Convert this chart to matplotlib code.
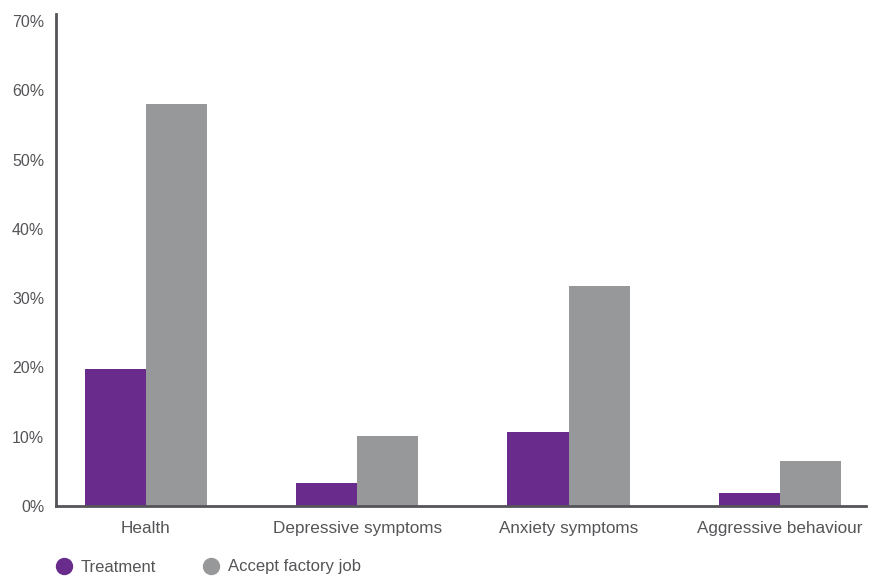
import matplotlib
matplotlib.use("Agg")
import numpy as np
import matplotlib.pyplot as plt
from matplotlib.lines import Line2D

# ---- data ----
categories = ["Health", "Depressive symptoms", "Anxiety symptoms", "Aggressive behaviour"]
treatment = [19.7, 3.3, 10.7, 1.9]
factory_job = [58.0, 10.1, 31.7, 6.5]
series_names = ["Treatment", "Accept factory job"]
y_ticks = [0, 10, 20, 30, 40, 50, 60, 70]

PURPLE = "#692c8c"
GREY = "#97989a"
AXIS = "#555559"
TEXT = "#555559"

plt.rcParams["font.family"] = ["Liberation Sans", "DejaVu Sans"]

fig = plt.figure(figsize=(8.7, 5.76), dpi=100)
ax = fig.add_axes([56 / 870, 1 - 506 / 576, 810 / 870, 492 / 576])

x = np.arange(len(categories))
w = 0.289
ax.bar(x - w / 2, treatment, width=w, color=PURPLE, linewidth=0)
ax.bar(x + w / 2, factory_job, width=w, color=GREY, linewidth=0)

ax.set_xlim(-0.426, 3.408)
ax.set_ylim(0, 71)
ax.set_yticks(y_ticks)
ax.set_yticklabels([f"{v}%" for v in y_ticks])
ax.set_xticks(x)
ax.set_xticklabels(categories)
ax.tick_params(axis="both", length=0, colors=TEXT)
ax.tick_params(axis="y", pad=8.5, labelsize=11.5)
ax.tick_params(axis="x", pad=11, labelsize=12.3)

for s in ["top", "right"]:
    ax.spines[s].set_visible(False)
for s in ["left", "bottom"]:
    ax.spines[s].set_color(AXIS)
    ax.spines[s].set_linewidth(2)

# legend below the axis
handles = [
    Line2D([], [], marker="o", linestyle="", markersize=11.5, color=PURPLE),
    Line2D([], [], marker="o", linestyle="", markersize=11.5, color=GREY),
]
fig.legend(handles, series_names, loc="center left", bbox_to_anchor=(36 / 870, 1 - 567 / 576),
           ncol=2, frameon=False, fontsize=12, labelcolor=TEXT,
           handletextpad=0.3, columnspacing=2.5, handlelength=1.5)

fig.savefig("out.png", dpi=100)
